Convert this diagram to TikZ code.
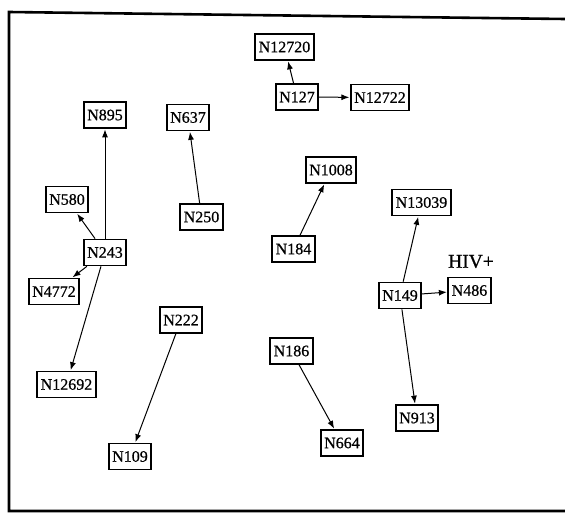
\documentclass[tikz,border=0pt]{standalone}
\usepackage{fontspec}
\setmainfont{Liberation Serif}
\newfontfamily\scanfont{Liberation Serif}[FakeBold=0.8]
\usetikzlibrary{arrows.meta}
\tikzset{
  nbox/.style={draw, line width=1.7pt, fill=white, inner xsep=3.5pt, inner ysep=0pt,
    minimum height=26pt, font=\scanfont\fontsize{16}{18}\selectfont},
  link/.style={line width=1pt, -{Latex[length=8pt,width=6pt]}, shorten >=0.5pt},
  frame/.style={line width=2.6pt}
}
\begin{document}
\begin{tikzpicture}[x=1pt,y=-1pt]
\useasboundingbox (0,0) rectangle (565,525);
% frame
\coordinate (ftr) at (565,19);
\coordinate (ftl) at (9,12);
\coordinate (fbl) at (9,511);
\coordinate (fbr) at (565,511);
\draw[frame] (ftr) -- (ftl) -- (fbl) -- (fbr);
% nodes
\node[nbox] (n12720) at (284.5,47) {N12720};
\node[nbox] (n127) at (297,97) {N127};
\node[nbox] (n12722) at (380,97.5) {N12722};
\node[nbox] (n895) at (105,115) {N895};
\node[nbox] (n637) at (188,117.5) {N637};
\node[nbox] (n1008) at (331,170) {N1008};
\node[nbox] (n580) at (67,199.5) {N580};
\node[nbox] (n13039) at (421.5,202.5) {N13039};
\node[nbox] (n250) at (201.5,217) {N250};
\node[nbox] (n184) at (293.5,249) {N184};
\node[nbox] (n243) at (105,252.5) {N243};
\node[font=\scanfont\fontsize{19.5}{22}\selectfont, inner sep=0pt] (hiv) at (471,261.5) {HIV+};
\node[nbox] (n4772) at (54,291.5) {N4772};
\node[nbox] (n486) at (469.5,290.5) {N486};
\node[nbox] (n149) at (400,295.5) {N149};
\node[nbox] (n222) at (181,320) {N222};
\node[nbox] (n186) at (291.5,351) {N186};
\node[nbox] (n12692) at (66.5,384.5) {N12692};
\node[nbox] (n913) at (417,418) {N913};
\node[nbox] (n664) at (342,443) {N664};
\node[nbox] (n109) at (130,456.5) {N109};
% links
\draw[link] (n127) -- (n12720);
\draw[link] (n127) -- (n12722);
\draw[link] (n243) -- (n895);
\draw[link] (n243) -- (n580);
\draw[link] (n243) -- (n4772);
\draw[link] (n243) -- (n12692);
\draw[link] (n250) -- (n637);
\draw[link] (n184) -- (n1008);
\draw[link] (n149) -- (n13039);
\draw[link] (n149) -- (n486);
\draw[link] (n149) -- (n913);
\draw[link] (n222) -- (n109);
\draw[link] (n186) -- (n664);
\end{tikzpicture}
\end{document}
